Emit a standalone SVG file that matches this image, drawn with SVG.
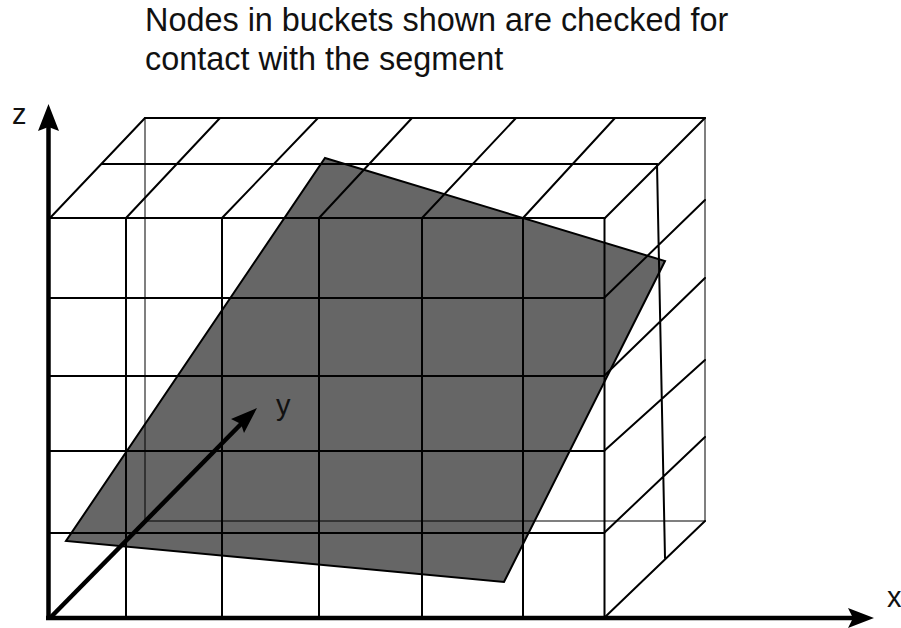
<svg xmlns="http://www.w3.org/2000/svg" width="901" height="628" viewBox="0 0 901 628">
<style>
text{font-family:"Liberation Sans",Arial,sans-serif;fill:#111}
.t{font-size:32.400px}
.l{font-size:29px}
.g{fill:none;stroke:#000;stroke-width:2;stroke-linecap:round}
.b{fill:none;stroke:#000;stroke-width:2;stroke-opacity:.5}
.a{fill:none;stroke:#000;stroke-width:4.5}
</style>
<rect width="901" height="628" fill="#fff"/>
<g id="title">
<text class="t" x="145" y="31">Nodes in buckets shown are checked for</text>
<text class="t" x="145" y="70">contact with the segment</text>
</g>
<g id="segment"><polygon points="325,158 665,261 504,582 66,541" fill="#666" stroke="#000" stroke-width="2"/></g>
<g id="grid">
<path class="b" d="M145 118V521H705V118"/>
<path class="g" d="M145 118H705M102 164H657M50 218H605M50 298H604M50 376H604M50 451H604M50 533H604M126 218V618M222 218V618M319 218V618M422 218V618M523 218V618M604.500 218V618"/>
<path class="g" d="M50 218L145 118M126 218L220 118M222 218L318 118M319 218L412 118M422 218L516 118M523 218L615 118M605 218L705 118M604 298L705 200M604 376L705 278M604 451L705 360M604 533L705 437M604 618L705 521M657 164L665 558"/>
</g>
<g id="axes">
<path class="a" d="M48.500 620V125"/>
<path d="M48.500 104L59 131L48.500 127L38 131Z" fill="#000"/>
<path class="a" d="M46 618H855"/>
<path d="M874 618L848 608L853 618L848 628Z" fill="#000"/>
<path class="a" d="M50 618L243 422"/>
<path d="M257 408L244 433L241 424L231 419Z" fill="#000"/>
</g>
<g id="axis-labels">
<text class="l" x="12" y="124">z</text>
<text class="l" x="276" y="415">y</text>
<text class="l" x="887" y="607">x</text>
</g>
</svg>
